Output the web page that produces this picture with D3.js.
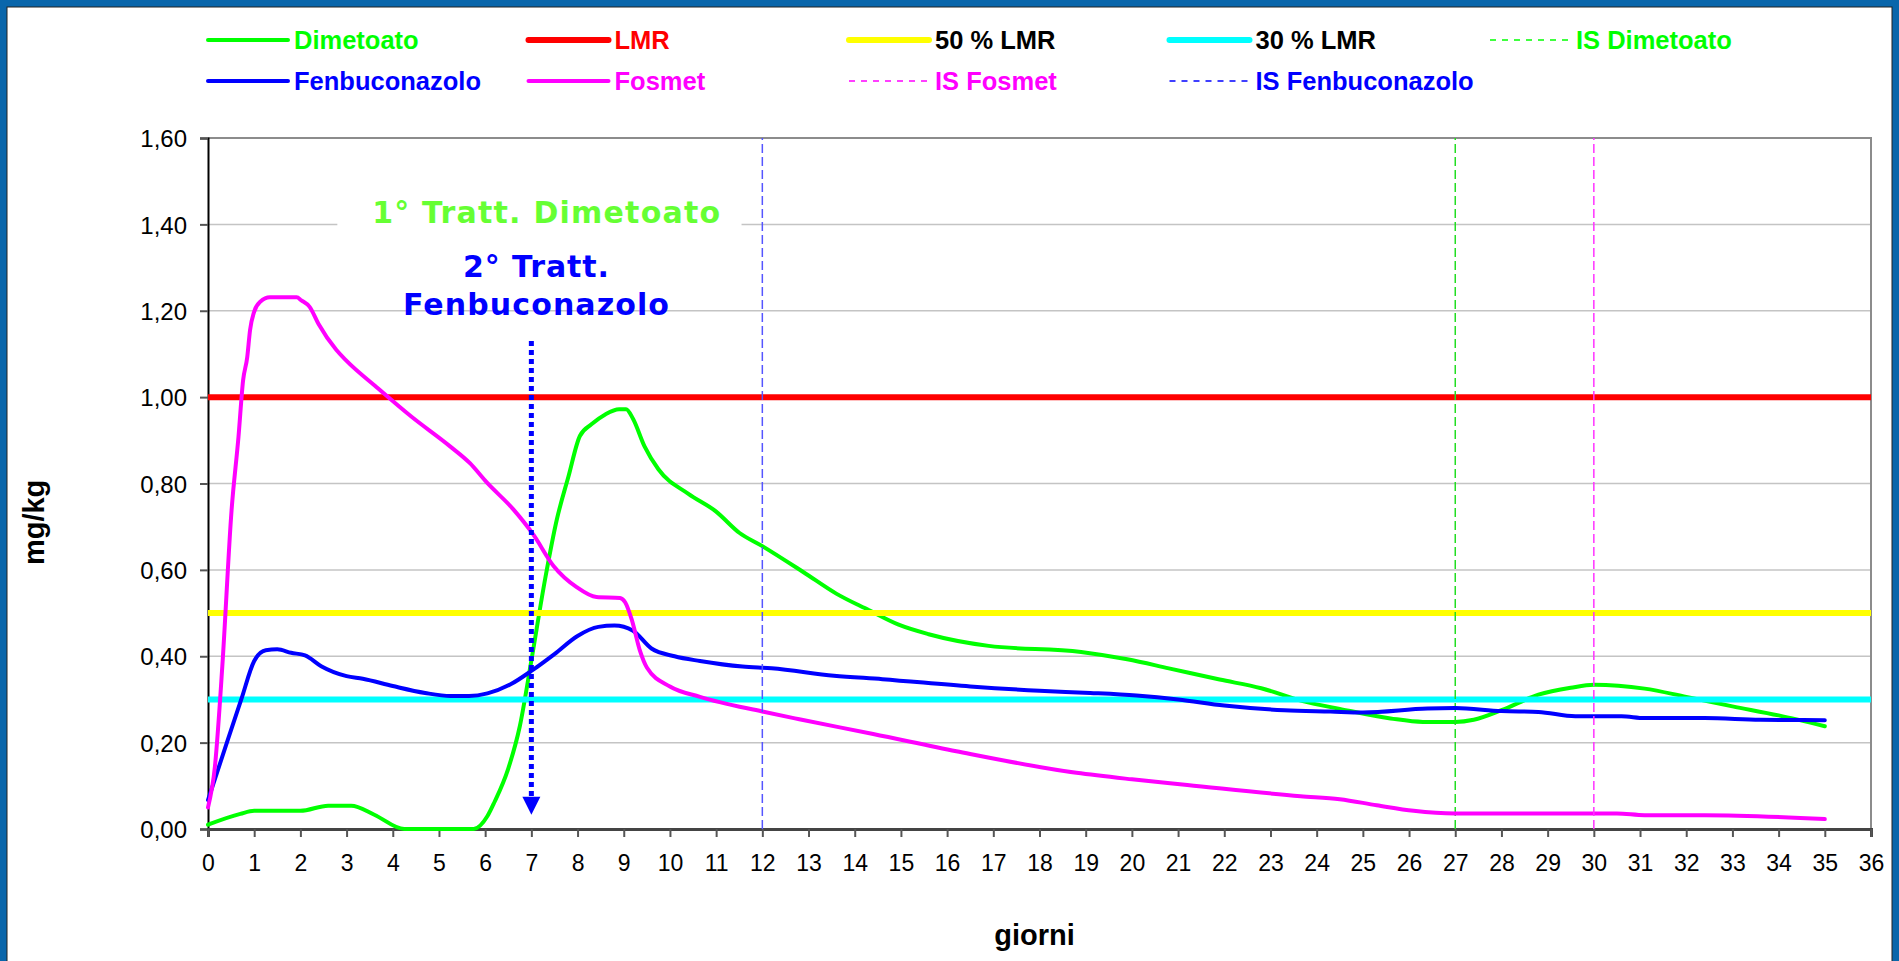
<!DOCTYPE html>
<html>
<head>
<meta charset="utf-8">
<script src="https://cdn.jsdelivr.net/npm/d3@7/dist/d3.min.js"></script>
<style>
  body { margin: 0; background: #fff; }
  svg { display: block; }
</style>
</head>
<body>
<div id="chart"></div>
<script>
// Dati (giorni / mg/kg)
const dimetoatoGiorni = [0, 0.7, 1.0, 2.0, 2.6, 3.1, 3.6, 4.25, 5.75, 6.05, 6.2, 6.5, 6.75, 7.0, 7.3, 7.55, 7.8, 8.05, 8.3, 8.6, 8.9, 9.05, 9.2, 9.45, 9.75, 10.4, 11.0, 11.5, 12.0, 12.9, 13.6, 14.3, 14.95, 15.6, 16.9, 18.9, 19.9, 20.8, 21.9, 22.8, 23.7, 24.5, 25.6, 26.3, 27.0, 27.4, 28.0, 28.8, 29.5, 30.0, 31.1, 32.0, 33.0, 34.0, 35.0];
const dimetoatoValori = [0.01, 0.035, 0.042, 0.042, 0.054, 0.054, 0.033, 0, 0, 0.03, 0.062, 0.14, 0.238, 0.39, 0.58, 0.716, 0.815, 0.91, 0.937, 0.96, 0.972, 0.972, 0.95, 0.886, 0.833, 0.776, 0.735, 0.686, 0.655, 0.594, 0.545, 0.507, 0.473, 0.451, 0.424, 0.41, 0.393, 0.372, 0.346, 0.326, 0.296, 0.278, 0.256, 0.248, 0.248, 0.253, 0.275, 0.311, 0.327, 0.334, 0.325, 0.306, 0.284, 0.263, 0.238];

const fenbuconazoloGiorni = [0, 0.43, 0.72, 1.0, 1.25, 1.5, 1.8, 2.1, 2.45, 3.0, 3.35, 4.0, 4.7, 5.25, 5.65, 6.05, 6.55, 7.0, 7.5, 8.0, 8.45, 8.8, 9.2, 9.6, 10.1, 10.65, 11.57, 12.2, 13.55, 14.6, 16.5, 18.0, 19.1, 20.1, 21.0, 22.0, 23.3, 24.3, 25.0, 26.4, 27.0, 28.0, 28.8, 29.6, 30.6, 31.1, 32.4, 33.6, 35.0];
const fenbuconazoloValori = [0.067, 0.207, 0.30, 0.389, 0.414, 0.416, 0.408, 0.402, 0.377, 0.354, 0.348, 0.331, 0.315, 0.308, 0.308, 0.314, 0.335, 0.366, 0.405, 0.447, 0.468, 0.471, 0.459, 0.418, 0.40, 0.389, 0.376, 0.372, 0.355, 0.347, 0.33, 0.32, 0.315, 0.309, 0.30, 0.286, 0.275, 0.272, 0.27, 0.279, 0.28, 0.273, 0.271, 0.261, 0.261, 0.257, 0.257, 0.253, 0.252];

const fosmetGiorni = [0, 0.15, 0.31, 0.51, 0.66, 0.76, 0.85, 0.91, 1.0, 1.13, 1.34, 1.92, 2.02, 2.2, 2.39, 2.78, 3.0, 3.65, 4.4, 5.24, 5.67, 6.03, 6.61, 7.04, 7.48, 7.98, 8.41, 8.92, 9.03, 9.17, 9.35, 9.5, 10.0, 10.65, 12.0, 12.8, 14.4, 16.2, 18.8, 20.0, 21.2, 23.65, 24.5, 25.3, 26.1, 27.0, 30.5, 31.1, 32.4, 35.0];
const fosmetValori = [0.05, 0.145, 0.377, 0.738, 0.908, 1.039, 1.093, 1.155, 1.198, 1.221, 1.231, 1.231, 1.224, 1.209, 1.17, 1.109, 1.084, 1.023, 0.955, 0.886, 0.847, 0.803, 0.74, 0.682, 0.609, 0.56, 0.537, 0.535, 0.525, 0.486, 0.413, 0.374, 0.33, 0.306, 0.272, 0.254, 0.22, 0.18, 0.13, 0.115, 0.102, 0.076, 0.069, 0.055, 0.042, 0.036, 0.036, 0.032, 0.032, 0.023];

// Limiti e intervalli di sicurezza
const limiteLMR = 1.0;
const limite50 = 0.5;
const limite30 = 0.3;
const isDimetoato = 27;
const isFosmet = 30;
const isFenbuconazolo = 12;

// Assi
const xDomain = [0, 36];
const yDomain = [0, 1.6];
const xTicks = d3.range(0, 37, 1);
const yTicks = [0, 0.2, 0.4, 0.6, 0.8, 1.0, 1.2, 1.4, 1.6];

// Annotazioni (giorno, mg/kg)
const freccia = { giorno: 7, da: 1.13, a: 0.07, punta: 0.033 };
const nota1 = { testo: '1° Tratt. Dimetoato', giorno: 7.32, valore: 1.404 };
const nota2 = { righe: ['2° Tratt.', 'Fenbuconazolo'], giorno: 7.1, valori: [1.277, 1.191] };

const W = 1899, H = 961;
const plot = { left: 208, right: 1871, top: 138, bottom: 829 };

const it = d3.formatLocale({ decimal: ',', thousands: '.', grouping: [3], currency: ['€', ''] });
const fmt = it.format('.2f');

const svg = d3.select('#chart')
    .append('svg')
    .attr('width', W)
    .attr('height', H);

// cornice blu
svg.append('rect').attr('width', W).attr('height', H).attr('fill', '#0966ab');
svg.append('rect')
    .attr('x', 7).attr('y', 7)
    .attr('width', W - 14).attr('height', H)
    .attr('fill', '#fff')
    .attr('stroke', '#222')
    .attr('stroke-width', 1);

const x = d3.scaleLinear().domain(xDomain).range([plot.left, plot.right]);
const y = d3.scaleLinear().domain(yDomain).range([plot.bottom, plot.top]);

// griglia
svg.append('g')
    .selectAll('line')
    .data(yTicks.filter(d => d > 0 && d < 1.6))
    .enter()
    .append('line')
    .attr('x1', x(0)).attr('x2', x(36))
    .attr('y1', d => y(d)).attr('y2', d => y(d))
    .attr('stroke', '#c4c4c4')
    .attr('stroke-width', 1.5);

// bordo area grafico (alto e destra)
svg.append('path')
    .attr('d', `M${x(0)},${y(1.6)}H${x(36)}V${y(0)}`)
    .attr('fill', 'none')
    .attr('stroke', '#8c8c8c')
    .attr('stroke-width', 2);

// asse Y
const yAxis = svg.append('g')
    .attr('transform', `translate(${x(0)},0)`)
    .call(d3.axisLeft(y).tickValues(yTicks).tickFormat(fmt).tickSize(8).tickPadding(13));
yAxis.select('.domain').attr('stroke', '#000').attr('stroke-width', 2);
yAxis.selectAll('.tick line').attr('stroke', '#555').attr('stroke-width', 2);
yAxis.selectAll('.tick text')
    .attr('font-family', 'Liberation Sans, Arial, sans-serif')
    .attr('font-size', 24)
    .attr('fill', '#000')
    .attr('dy', '0.36em');

// asse X
const xAxis = svg.append('g')
    .attr('transform', `translate(0,${y(0)})`)
    .call(d3.axisBottom(x).tickValues(xTicks).tickFormat(d3.format('d')).tickSize(8).tickPadding(18));
xAxis.select('.domain').attr('stroke', '#444').attr('stroke-width', 3);
xAxis.selectAll('.tick line').attr('stroke', '#555').attr('stroke-width', 2);
xAxis.selectAll('.tick text')
    .attr('font-family', 'Liberation Sans, Arial, sans-serif')
    .attr('font-size', 23)
    .attr('fill', '#000');

// titoli assi
svg.append('text')
    .attr('transform', `translate(44,${y(0.71)}) rotate(-90)`)
    .attr('text-anchor', 'middle')
    .attr('font-family', 'Liberation Sans, Arial, sans-serif')
    .attr('font-weight', 'bold')
    .attr('font-size', 29)
    .text('mg/kg');

svg.append('text')
    .attr('x', (x(0) + x(36)) / 2 - 5)
    .attr('y', 945)
    .attr('text-anchor', 'middle')
    .attr('font-family', 'Liberation Sans, Arial, sans-serif')
    .attr('font-weight', 'bold')
    .attr('font-size', 29)
    .text('giorni');

const linea = d3.line()
    .x(d => x(d[0]))
    .y(d => y(d[1]))
    .curve(d3.curveMonotoneX);

const pair = (gg, vv) => gg.map((g, i) => [g, vv[i]]);

function hLine(v, color) {
    svg.append('line')
        .attr('x1', x(0)).attr('x2', x(36))
        .attr('y1', y(v)).attr('y2', y(v))
        .attr('stroke', color)
        .attr('stroke-width', 6);
}
function vLine(g, color) {
    svg.append('line')
        .attr('x1', x(g)).attr('x2', x(g))
        .attr('y1', y(0)).attr('y2', y(1.6))
        .attr('stroke', color)
        .attr('stroke-width', 1.5)
        .attr('stroke-dasharray', '9,4');
}
function serie(gg, vv, color) {
    svg.append('path')
        .datum(pair(gg, vv))
        .attr('d', linea)
        .attr('fill', 'none')
        .attr('stroke', color)
        .attr('stroke-width', 4)
        .attr('stroke-linejoin', 'round')
        .attr('stroke-linecap', 'round');
}

// box bianco dietro la nota 1
svg.append('rect')
    .attr('x', x(2.8)).attr('y', y(1.47))
    .attr('width', x(11.55) - x(2.8))
    .attr('height', y(1.385) - y(1.47))
    .attr('fill', '#fff');

// serie nell'ordine della legenda
serie(dimetoatoGiorni, dimetoatoValori, '#00ff00');
hLine(limiteLMR, '#ff0000');
hLine(limite50, '#ffff00');
hLine(limite30, '#00ffff');
vLine(isDimetoato, '#22dd22');
serie(fenbuconazoloGiorni, fenbuconazoloValori, '#0000ff');
serie(fosmetGiorni, fosmetValori, '#ff00ff');
vLine(isFosmet, '#ff33ff');
vLine(isFenbuconazolo, '#5555ff');

// freccia tratteggiata
svg.append('line')
    .attr('x1', x(freccia.giorno)).attr('x2', x(freccia.giorno))
    .attr('y1', y(freccia.da)).attr('y2', y(freccia.a))
    .attr('stroke', '#0000ff')
    .attr('stroke-width', 5)
    .attr('stroke-dasharray', '5,4');
svg.append('path')
    .attr('d', `M${x(freccia.giorno) - 9},${y(freccia.a) - 2}L${x(freccia.giorno) + 9},${y(freccia.a) - 2}L${x(freccia.giorno)},${y(freccia.punta)}Z`)
    .attr('fill', '#0000ff');

// note
svg.append('text')
    .attr('x', x(nota1.giorno)).attr('y', y(nota1.valore))
    .attr('text-anchor', 'middle')
    .attr('font-family', 'DejaVu Sans, Verdana, sans-serif')
    .attr('font-weight', 'bold')
    .attr('font-size', 30)
    .attr('textLength', 348)
    .attr('lengthAdjust', 'spacing')
    .attr('fill', '#66ff33')
    .text(nota1.testo);

const larghezze2 = [146, 266];
svg.selectAll('.nota2')
    .data(nota2.righe)
    .enter()
    .append('text')
    .attr('x', x(nota2.giorno))
    .attr('y', (d, i) => y(nota2.valori[i]))
    .attr('text-anchor', 'middle')
    .attr('font-family', 'DejaVu Sans, Verdana, sans-serif')
    .attr('font-weight', 'bold')
    .attr('font-size', 30)
    .attr('textLength', (d, i) => larghezze2[i])
    .attr('lengthAdjust', 'spacing')
    .attr('fill', '#0000ff')
    .text(d => d);

// legenda
const legenda = [
    { nome: 'Dimetoato', colore: '#00ff00', testo: '#00ff00', w: 4 },
    { nome: 'LMR', colore: '#ff0000', testo: '#ff0000', w: 6 },
    { nome: '50 % LMR', colore: '#ffff00', testo: '#000', w: 6 },
    { nome: '30 % LMR', colore: '#00ffff', testo: '#000', w: 6 },
    { nome: 'IS Dimetoato', colore: '#00ff00', testo: '#00ff00', w: 1.5, dash: '6,6' },
    { nome: 'Fenbuconazolo', colore: '#0000ff', testo: '#0000ff', w: 4 },
    { nome: 'Fosmet', colore: '#ff00ff', testo: '#ff00ff', w: 4 },
    { nome: 'IS Fosmet', colore: '#ff00ff', testo: '#ff00ff', w: 1.5, dash: '6,6' },
    { nome: 'IS Fenbuconazolo', colore: '#0000ff', testo: '#0000ff', w: 1.5, dash: '6,6' }
];

const leg = svg.append('g')
    .selectAll('g')
    .data(legenda)
    .enter()
    .append('g')
    .attr('transform', (d, i) => `translate(${208 + (i % 5) * 320.5},${i < 5 ? 40 : 81})`);

leg.append('line')
    .attr('x1', 0).attr('x2', 80)
    .attr('stroke', d => d.colore)
    .attr('stroke-width', d => d.w)
    .attr('stroke-linecap', d => d.dash ? 'butt' : 'round')
    .attr('stroke-dasharray', d => d.dash || null);

leg.append('text')
    .attr('x', 86)
    .attr('dy', '0.36em')
    .attr('font-family', 'Liberation Sans, Arial, sans-serif')
    .attr('font-weight', 'bold')
    .attr('font-size', 25.5)
    .attr('fill', d => d.testo)
    .text(d => d.nome);
</script>
</body>
</html>
